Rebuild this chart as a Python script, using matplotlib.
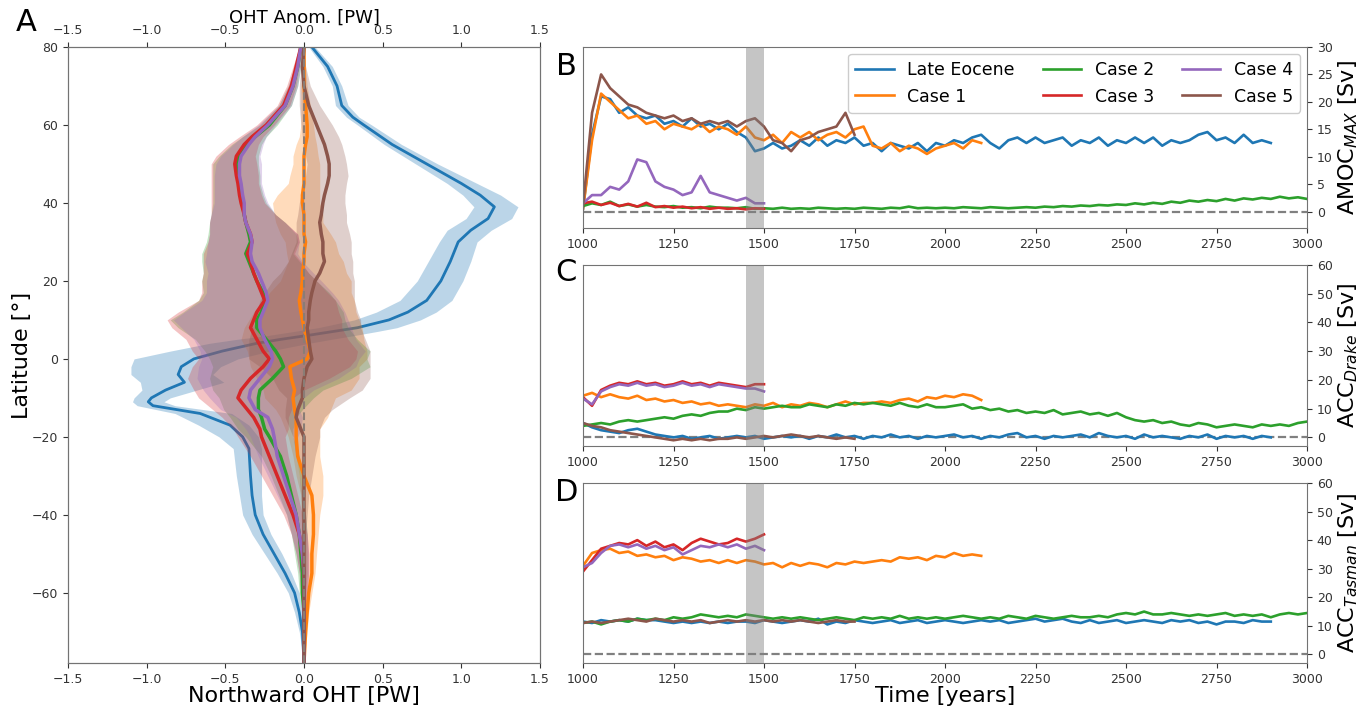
import matplotlib.pyplot as plt
import numpy as np

names = ["Late Eocene", "Case 1", "Case 2", "Case 3", "Case 4", "Case 5"]
colors = ["#1f77b4", "#ff7f0e", "#2ca02c", "#d62728", "#9467bd", "#8c564b"]

# ---------------- panel A: meridional OHT profiles ----------------
lat_eoc = [80, 75, 70, 65, 62,
           60, 55, 50, 45, 42,
           39, 36, 33, 30, 25,
           20, 15, 12, 10, 8,
           7, 6, 5, 4, 2,
           0, -2, -4, -6, -8,
           -10, -11, -12, -14, -17,
           -20, -23, -30, -35, -40,
           -45, -50, -55, -60, -65,
           -70, -78]
oht_eoc = [0.05, 0.15, 0.21, 0.24, 0.31,
           0.38, 0.56, 0.78, 1.00, 1.12,
           1.21, 1.17, 1.06, 0.98, 0.93,
           0.87, 0.78, 0.66, 0.54, 0.34,
           0.18, 0.02, -0.15, -0.30, -0.52,
           -0.70, -0.78, -0.80, -0.76, -0.88,
           -0.97, -0.99, -0.96, -0.66, -0.47,
           -0.39, -0.35, -0.34, -0.33, -0.31,
           -0.26, -0.19, -0.12, -0.06, -0.03,
           -0.01, 0.0]
eoc_lo = [0.02, 0.03, 0.03, 0.04, 0.04,
          0.04, 0.05, 0.07, 0.09, 0.11,
          0.13, 0.14, 0.15, 0.12, 0.14,
          0.15, 0.17, 0.20, 0.22, 0.25,
          0.25, 0.25, 0.28, 0.30, 0.33,
          0.38, 0.32, 0.30, 0.28, 0.15,
          0.11, 0.10, 0.10, 0.16, 0.20,
          0.15, 0.10, 0.09, 0.08, 0.08,
          0.07, 0.06, 0.05, 0.04, 0.03,
          0.02, 0.0]
eoc_hi = [0.02, 0.03, 0.03, 0.04, 0.04,
          0.05, 0.06, 0.07, 0.10, 0.13,
          0.15, 0.15, 0.13, 0.12, 0.13,
          0.14, 0.16, 0.18, 0.20, 0.25,
          0.28, 0.30, 0.32, 0.33, 0.30,
          0.28, 0.25, 0.22, 0.25, 0.20,
          0.12, 0.10, 0.14, 0.20, 0.12,
          0.10, 0.08, 0.07, 0.06, 0.05,
          0.05, 0.05, 0.04, 0.03, 0.02,
          0.01, 0.0]

lat_case = [80, 75, 70, 65, 60,
            57, 55, 52, 50, 47,
            45, 42, 40, 37, 35,
            32, 30, 27, 25, 22,
            20, 17, 15, 12, 10,
            8, 5, 2, 0, -2,
            -5, -8, -10, -13, -15,
            -18, -20, -25, -30, -35,
            -40, -45, -50, -55, -60,
            -65, -70, -78]
oht_c1 = [0.0, 0.0, 0.0, 0.01, 0.02,
          0.02, 0.01, 0.0, 0.0, 0.0,
          0.0, -0.01, -0.01, 0.0, 0.0,
          0.0, 0.01, 0.0, 0.0, -0.01,
          -0.01, -0.02, -0.03, -0.02, -0.01,
          0.0, 0.02, 0.04, 0.02, -0.09,
          -0.08, -0.06, -0.07, -0.06, -0.05,
          -0.05, -0.05, -0.04, 0.0, 0.05,
          0.06, 0.06, 0.05, 0.05, 0.03,
          0.02, 0.01, 0.0]
oht_c2 = [-0.02, -0.04, -0.07, -0.12, -0.22,
          -0.31, -0.36, -0.41, -0.43, -0.42,
          -0.41, -0.40, -0.39, -0.38, -0.37,
          -0.35, -0.34, -0.37, -0.35, -0.32,
          -0.30, -0.26, -0.25, -0.27, -0.30,
          -0.30, -0.24, -0.18, -0.15, -0.13,
          -0.20, -0.28, -0.29, -0.29, -0.27,
          -0.25, -0.22, -0.15, -0.11, -0.08,
          -0.05, -0.03, -0.02, -0.01, -0.01,
          0.0, 0.0, 0.0]
oht_c3 = [-0.02, -0.05, -0.08, -0.13, -0.24,
          -0.33, -0.38, -0.43, -0.44, -0.43,
          -0.42, -0.41, -0.40, -0.38, -0.37,
          -0.34, -0.33, -0.36, -0.34, -0.32,
          -0.30, -0.27, -0.25, -0.30, -0.32,
          -0.34, -0.30, -0.26, -0.22, -0.26,
          -0.34, -0.40, -0.42, -0.36, -0.32,
          -0.28, -0.27, -0.22, -0.17, -0.12,
          -0.07, -0.03, -0.01, 0.0, 0.0,
          0.0, 0.0, 0.0]
oht_c4 = [-0.02, -0.04, -0.07, -0.12, -0.23,
          -0.31, -0.35, -0.40, -0.41, -0.41,
          -0.40, -0.39, -0.38, -0.38, -0.37,
          -0.34, -0.33, -0.34, -0.33, -0.29,
          -0.27, -0.24, -0.23, -0.26, -0.28,
          -0.28, -0.25, -0.21, -0.20, -0.22,
          -0.28, -0.34, -0.35, -0.31, -0.23,
          -0.20, -0.19, -0.17, -0.13, -0.09,
          -0.05, -0.03, -0.01, 0.0, 0.0,
          0.0, 0.0, 0.0]
oht_c5 = [0.0, -0.01, 0.0, 0.03, 0.08,
          0.11, 0.13, 0.15, 0.16, 0.16,
          0.15, 0.13, 0.12, 0.11, 0.10,
          0.11, 0.12, 0.12, 0.13, 0.10,
          0.07, 0.05, 0.04, 0.03, 0.03,
          0.02, 0.03, 0.04, 0.05, 0.02,
          0.0, -0.01, -0.01, -0.04, -0.05,
          -0.02, 0.0, 0.0, 0.0, 0.0,
          0.0, 0.0, 0.0, 0.0, 0.0,
          0.0, 0.0, 0.0]

# spread of the shading below / above each case line
neg_lo = [0.01, 0.02, 0.03, 0.04, 0.06,
          0.08, 0.10, 0.13, 0.15, 0.16,
          0.17, 0.18, 0.19, 0.21, 0.23,
          0.26, 0.28, 0.28, 0.30, 0.32,
          0.35, 0.38, 0.42, 0.50, 0.55,
          0.50, 0.45, 0.45, 0.45, 0.45,
          0.40, 0.30, 0.25, 0.22, 0.20,
          0.17, 0.15, 0.12, 0.10, 0.08,
          0.06, 0.05, 0.04, 0.03, 0.02,
          0.01, 0.01, 0.0]
neg_hi = [0.01, 0.02, 0.03, 0.04, 0.05,
          0.07, 0.09, 0.12, 0.14, 0.14,
          0.13, 0.14, 0.15, 0.20, 0.25,
          0.30, 0.30, 0.30, 0.32, 0.35,
          0.38, 0.42, 0.45, 0.52, 0.56,
          0.58, 0.58, 0.60, 0.55, 0.55,
          0.50, 0.40, 0.35, 0.28, 0.22,
          0.18, 0.15, 0.12, 0.10, 0.08,
          0.06, 0.05, 0.04, 0.03, 0.02,
          0.01, 0.01, 0.0]
c1_lo = [0.0, 0.01, 0.02, 0.03, 0.04,
         0.05, 0.06, 0.07, 0.07, 0.09,
         0.10, 0.16, 0.19, 0.19, 0.18,
         0.15, 0.13, 0.11, 0.10, 0.12,
         0.14, 0.20, 0.22, 0.30, 0.34,
         0.38, 0.42, 0.40, 0.37, 0.25,
         0.22, 0.20, 0.18, 0.12, 0.10,
         0.07, 0.05, 0.03, 0.05, 0.07,
         0.08, 0.07, 0.06, 0.06, 0.04,
         0.03, 0.01, 0.0]
c1_hi = [0.0, 0.01, 0.02, 0.03, 0.04,
         0.05, 0.07, 0.09, 0.10, 0.10,
         0.10, 0.11, 0.11, 0.12, 0.12,
         0.17, 0.19, 0.22, 0.25, 0.28,
         0.31, 0.32, 0.35, 0.35, 0.36,
         0.37, 0.36, 0.36, 0.38, 0.44,
         0.43, 0.36, 0.27, 0.23, 0.20,
         0.15, 0.15, 0.14, 0.12, 0.07,
         0.04, 0.03, 0.03, 0.02, 0.02,
         0.01, 0.01, 0.0]
c5_lo = [0.0, 0.01, 0.03, 0.06, 0.10,
         0.12, 0.13, 0.14, 0.14, 0.15,
         0.15, 0.15, 0.15, 0.15, 0.15,
         0.16, 0.17, 0.20, 0.23, 0.25,
         0.27, 0.30, 0.32, 0.33, 0.33,
         0.35, 0.38, 0.39, 0.40, 0.30,
         0.20, 0.15, 0.10, 0.08, 0.07,
         0.07, 0.07, 0.05, 0.03, 0.02,
         0.01, 0.0, 0.0, 0.0, 0.0,
         0.0, 0.0, 0.0]
c5_hi = [0.0, 0.02, 0.04, 0.07, 0.10,
         0.11, 0.11, 0.11, 0.11, 0.12,
         0.12, 0.13, 0.14, 0.16, 0.17,
         0.18, 0.18, 0.18, 0.18, 0.21,
         0.25, 0.27, 0.28, 0.31, 0.33,
         0.34, 0.36, 0.38, 0.37, 0.40,
         0.42, 0.38, 0.30, 0.22, 0.18,
         0.12, 0.10, 0.07, 0.05, 0.03,
         0.02, 0.01, 0.0, 0.0, 0.0,
         0.0, 0.0, 0.0]

# ---------------- panels B-D: time series (every 25 years from 1000) ----------------
end_year = [2900, 2100, 3000, 1500, 1500, 1750]

amoc_eoc = [0.5, 14.0, 21.0, 20.5, 18.0, 19.0, 17.5, 17.0,
            17.5, 16.0, 16.5, 15.5, 17.0, 15.5, 16.0, 15.0,
            16.0, 14.5, 13.5, 11.0, 11.5, 12.5, 11.5, 12.0,
            13.0, 12.0, 13.5, 12.0, 13.0, 12.5, 13.5, 12.0,
            12.5, 11.0, 12.5, 12.0, 11.5, 12.5, 11.0, 12.5,
            12.0, 13.0, 12.5, 13.5, 14.0, 12.5, 11.5, 13.0,
            13.5, 12.5, 13.5, 12.5, 13.0, 13.5, 12.0, 13.0,
            12.5, 13.5, 12.0, 13.0, 12.5, 13.5, 12.5, 13.5,
            12.0, 13.0, 12.5, 13.0, 14.0, 14.5, 13.0, 13.5,
            12.5, 14.0, 12.5, 13.0, 12.5]
amoc_c1 = [0.5, 13.0, 21.5, 20.0, 18.5, 17.0, 17.5, 16.0,
           16.5, 15.0, 16.0, 15.5, 15.0, 16.0, 14.5, 15.5,
           15.0, 14.0, 15.5, 13.5, 13.0, 14.0, 12.5, 14.5,
           13.5, 14.5, 13.0, 14.0, 14.5, 13.5, 15.0, 15.5,
           12.0, 11.5, 12.5, 11.0, 12.0, 11.5, 10.5, 11.5,
           12.0, 12.5, 11.5, 13.0, 12.5]
amoc_c2 = [1.0, 1.5, 1.2, 1.8, 1.0, 1.3, 0.9, 1.2,
           0.9, 0.8, 1.0, 0.7, 0.8, 0.6, 0.9, 0.7,
           0.7, 0.6, 0.8, 0.5, 0.6, 0.5, 0.7, 0.5,
           0.6, 0.5, 0.7, 0.6, 0.5, 0.6, 0.5, 0.7,
           0.6, 0.5, 0.7, 0.6, 0.9, 0.6, 0.7, 0.6,
           0.7, 0.6, 0.8, 0.7, 0.6, 0.8, 0.7, 0.6,
           0.7, 0.8, 0.7, 0.9, 0.8, 1.0, 0.9, 1.1,
           1.0, 1.2, 1.1, 1.3, 1.2, 1.5, 1.3, 1.6,
           1.4, 1.8, 1.6, 2.0, 1.8, 2.1, 1.9, 2.3,
           2.0, 2.4, 2.2, 2.5, 2.3, 2.7, 2.4, 2.6,
           2.3]
amoc_c3 = [1.5, 1.8, 1.2, 1.6, 1.0, 1.4, 0.9, 1.6,
           0.8, 1.0, 0.7, 0.9, 0.6, 0.8, 0.5, 0.7,
           0.5, 0.6, 0.4, 0.6, 0.5]
amoc_c4 = [1.5, 3.0, 3.0, 4.5, 4.0, 5.5, 9.5, 9.0,
           5.5, 4.5, 4.0, 3.0, 3.5, 6.5, 3.5, 3.0,
           2.5, 2.0, 2.5, 1.5, 1.5]
amoc_c5 = [1.0, 18.0, 25.0, 22.5, 21.0, 19.5, 19.0, 18.0,
           17.5, 17.0, 17.5, 16.5, 17.0, 16.0, 16.5, 16.0,
           16.5, 15.5, 16.5, 17.0, 15.5, 13.0, 12.5, 11.0,
           13.0, 13.5, 14.5, 15.0, 15.5, 18.0, 14.0]

drake_eoc = [5.0, 3.5, 2.5, 2.0, 1.5, 2.5, 3.0, 2.0,
             1.0, 0.5, 0.0, 0.5, -0.5, 0.0, 0.5, -0.5,
             0.0, 0.5, 0.0, 0.5, -0.5, 0.0, 0.5, 0.0,
             0.5, -0.5, 0.5, 0.0, 1.0, 0.0, 0.5, -0.5,
             0.5, 0.0, 1.0, 0.0, 0.5, -0.5, 0.5, 0.0,
             0.5, 1.0, 0.0, 0.5, -0.5, 0.5, 0.0, 1.0,
             1.5, 0.0, 0.5, -0.5, 0.5, 0.0, 0.5, 1.0,
             0.0, 1.5, 0.5, 0.0, 0.5, -0.5, 1.0, 0.0,
             0.5, 0.0, -0.5, 0.5, 0.0, 1.0, -0.5, 0.5,
             0.0, 0.5, -0.5, 0.5, 0.0]
drake_c1 = [14.5, 15.5, 14.0, 15.0, 14.0, 13.5, 14.5, 13.0,
            13.5, 12.5, 13.0, 12.0, 12.5, 11.5, 12.0, 11.0,
            11.5, 11.0, 10.5, 11.5, 11.0, 12.0, 10.5, 11.5,
            11.0, 12.0, 11.5, 10.5, 11.5, 12.5, 11.5, 12.0,
            12.0, 12.5, 12.0, 13.0, 13.5, 12.5, 14.0, 13.5,
            14.5, 14.0, 15.0, 14.5, 13.0]
drake_c2 = [4.0, 4.5, 5.0, 4.5, 5.5, 6.0, 5.5, 6.0,
            6.5, 7.0, 6.5, 7.5, 8.0, 7.5, 8.5, 9.0,
            9.0, 10.0, 9.5, 10.5, 10.0, 10.5, 11.0, 10.5,
            10.5, 11.5, 11.0, 10.5, 11.5, 11.0, 12.0, 11.5,
            12.0, 11.5, 11.0, 12.0, 11.0, 10.5, 11.5, 10.5,
            10.5, 11.0, 11.5, 10.0, 10.5, 9.5, 10.0, 9.0,
            9.5, 8.5, 9.0, 8.5, 9.5, 8.0, 8.5, 9.0,
            8.0, 8.5, 7.5, 8.5, 7.0, 6.0, 5.5, 6.0,
            5.0, 5.5, 4.5, 4.0, 5.0, 4.5, 3.5, 4.0,
            4.5, 4.0, 3.5, 4.5, 4.0, 4.5, 4.0, 5.0,
            5.5]
drake_c3 = [14.0, 11.0, 16.5, 18.0, 19.0, 18.5, 19.5, 18.5,
            19.0, 18.0, 18.5, 19.5, 18.5, 19.0, 18.0, 19.0,
            18.5, 18.0, 17.5, 18.5, 18.5]
drake_c4 = [13.5, 11.5, 16.0, 17.5, 18.5, 18.0, 19.0, 18.0,
            18.5, 17.5, 18.0, 19.0, 18.0, 18.5, 17.5, 18.5,
            18.0, 17.5, 17.0, 17.0, 16.0]
drake_c5 = [5.0, 4.0, 3.5, 2.5, 2.0, 1.5, 1.0, 0.5,
            0.0, -0.5, -1.0, -0.5, -1.0, -0.5, -1.0, -0.5,
            -0.5, 0.0, -0.5, 0.0, 0.5, 0.0, 0.5, 1.0,
            0.5, 0.0, 0.5, 0.0, -0.5, 0.0, -0.5]

tasman_eoc = [11.5, 11.0, 12.0, 11.5, 12.0, 11.5, 12.5, 12.0,
              12.0, 11.5, 11.0, 11.5, 11.0, 11.5, 11.0, 11.5,
              11.0, 11.5, 11.5, 11.0, 12.0, 11.5, 11.0, 11.5,
              12.0, 11.5, 12.5, 10.5, 11.5, 11.0, 12.0, 11.5,
              11.0, 11.5, 12.0, 11.0, 11.5, 12.0, 11.0, 11.5,
              12.0, 11.5, 11.0, 11.5, 12.0, 11.5, 12.0, 11.0,
              11.5, 12.0, 12.5, 11.5, 12.0, 12.5, 11.5, 11.0,
              12.0, 11.0, 11.5, 12.0, 11.0, 11.5, 12.0, 11.5,
              11.0, 12.0, 11.5, 12.0, 11.0, 11.5, 10.5, 11.5,
              11.5, 11.0, 12.0, 11.5, 11.5]
tasman_c1 = [31.0, 35.5, 36.5, 37.0, 35.5, 36.0, 34.5, 35.0,
             34.0, 34.5, 33.0, 34.0, 33.5, 32.5, 33.0, 32.0,
             33.0, 32.0, 33.0, 32.5, 31.5, 32.0, 30.5, 32.0,
             31.0, 32.0, 31.5, 30.5, 32.0, 31.5, 32.5, 32.0,
             32.5, 33.0, 32.5, 34.0, 33.5, 34.0, 33.0, 34.5,
             34.0, 35.5, 34.5, 35.0, 34.5]
tasman_c2 = [11.0, 11.5, 10.5, 11.5, 12.0, 11.5, 12.5, 12.0,
             12.5, 12.0, 13.0, 12.5, 13.0, 14.0, 13.5, 13.0,
             13.5, 13.0, 14.0, 13.5, 13.0, 12.5, 13.0, 12.5,
             13.0, 12.5, 12.0, 12.5, 13.0, 12.5, 12.0, 13.0,
             12.5, 13.0, 12.5, 13.5, 12.5, 13.0, 12.5, 13.0,
             12.5, 13.0, 13.5, 13.0, 12.5, 13.0, 12.5, 13.5,
             13.0, 12.5, 13.5, 13.0, 12.5, 13.0, 13.5, 13.0,
             13.0, 13.5, 13.0, 14.0, 14.5, 14.0, 15.0, 14.0,
             14.0, 14.5, 14.0, 13.5, 14.0, 13.5, 14.0, 14.5,
             13.5, 14.0, 13.5, 14.0, 13.0, 14.0, 14.5, 14.0,
             14.5]
tasman_c3 = [29.0, 33.0, 37.0, 38.0, 39.0, 38.5, 40.0, 38.0,
             39.5, 37.5, 38.5, 36.5, 39.0, 40.5, 39.5, 38.5,
             39.0, 40.5, 39.5, 40.5, 42.0]
tasman_c4 = [30.5, 32.0, 35.5, 38.0, 38.5, 37.5, 38.5, 37.0,
             38.0, 36.5, 37.5, 35.0, 36.5, 38.0, 37.5, 38.5,
             37.5, 38.5, 37.0, 38.0, 36.5]
tasman_c5 = [11.0, 11.5, 11.0, 11.5, 12.0, 12.5, 12.0, 11.5,
             12.5, 12.0, 11.5, 12.0, 11.5, 12.0, 11.0, 11.5,
             12.0, 11.5, 12.0, 11.5, 12.0, 11.5, 12.0, 11.5,
             12.0, 11.5, 11.0, 11.5, 12.0, 11.5, 11.5]

W, H = 1371, 711
fig = plt.figure(figsize=(W / 100, H / 100), dpi=100)
spine_col = "0.45"


def box(l, t, r, b):
    return [l / W, 1 - b / H, (r - l) / W, (b - t) / H]


# ---- panel A ----
axA = fig.add_axes(box(68, 47, 540, 663))
axA.fill_betweenx(lat_eoc, np.array(oht_eoc) - eoc_lo, np.array(oht_eoc) + eoc_hi,
                  color=colors[0], alpha=0.3, lw=0)
axA.plot(oht_eoc, lat_eoc, color=colors[0], lw=2)
axA.set_xlim(-1.5, 1.5)
axA.set_ylim(-78, 80)
axA.set_yticks([-60, -40, -20, 0, 20, 40, 60, 80])
axA.set_xticks([-1.5, -1.0, -0.5, 0.0, 0.5, 1.0, 1.5])
axA.set_xlabel("Northward OHT [PW]", fontsize=16, labelpad=0)
axA.set_ylabel("Latitude [°]", fontsize=16, labelpad=0)

axT = axA.twiny()
axT.set_xlim(-1.5, 1.5)
axT.set_xticks([-1.5, -1.0, -0.5, 0.0, 0.5, 1.0, 1.5])
axT.set_xlabel("OHT Anom. [PW]", fontsize=13, labelpad=1)

case_vals = [oht_c1, oht_c2, oht_c3, oht_c4, oht_c5]
case_lo = [c1_lo, neg_lo, neg_lo, neg_lo, c5_lo]
case_hi = [c1_hi, neg_hi, neg_hi, neg_hi, c5_hi]
for vals, lo, hi, col in zip(case_vals, case_lo, case_hi, colors[1:]):
    v = np.array(vals)
    axT.fill_betweenx(lat_case, v - lo, v + hi, color=col, alpha=0.28, lw=0)
for vals, col in zip(case_vals, colors[1:]):
    axT.plot(vals, lat_case, color=col, lw=2.5)
axT.axvline(0, color="#8a7d76", ls="--", lw=1.5)

for ax in (axA, axT):
    ax.tick_params(labelsize=9, colors="0.2")
    for s in ax.spines.values():
        s.set_color(spine_col)

# ---- panels B, C, D ----
axB = fig.add_axes(box(583, 47, 1307, 228))
axC = fig.add_axes(box(583, 265, 1307, 446))
axD = fig.add_axes(box(583, 483, 1307, 663))

panels = [
    (axB, [amoc_eoc, amoc_c1, amoc_c2, amoc_c3, amoc_c4, amoc_c5],
     (-3, 30), range(0, 31, 5), "AMOC$_{MAX}$ [Sv]"),
    (axC, [drake_eoc, drake_c1, drake_c2, drake_c3, drake_c4, drake_c5],
     (-3, 60), range(0, 61, 10), "ACC$_{Drake}$ [Sv]"),
    (axD, [tasman_eoc, tasman_c1, tasman_c2, tasman_c3, tasman_c4, tasman_c5],
     (-3, 60), range(0, 61, 10), "ACC$_{Tasman}$ [Sv]"),
]
for ax, series, ylim, yt, ylab in panels:
    ax.axhline(0, color="0.5", ls="--", lw=1.6, zorder=1)
    for vals, end, col, name in zip(series, end_year, colors, names):
        t = np.arange(1000, end + 1, 25)
        ax.plot(t, vals, color=col, lw=1.9, label=name, zorder=2)
    ax.axvspan(1450, 1500, color="0.5", alpha=0.45, lw=0, zorder=3)
    ax.set_xlim(1000, 3000)
    ax.set_ylim(*ylim)
    ax.set_yticks(list(yt))
    ax.set_xticks([1000, 1250, 1500, 1750, 2000, 2250, 2500, 2750, 3000])
    ax.yaxis.tick_right()
    ax.yaxis.set_label_position("right")
    ax.set_ylabel(ylab, fontsize=16, labelpad=3)
    ax.tick_params(labelsize=9, colors="0.2")
    for s in ax.spines.values():
        s.set_color(spine_col)

axB.legend(ncol=3, loc="upper right", fontsize=12.5, handlelength=2.2,
           columnspacing=1.6, borderaxespad=0.4, framealpha=1)
axD.set_xlabel("Time [years]", fontsize=16, labelpad=0)

fig.text(0.019, 0.968, "A", fontsize=22, ha="center", va="center")
fig.text(0.413, 0.906, "B", fontsize=22, ha="center", va="center")
fig.text(0.413, 0.617, "C", fontsize=22, ha="center", va="center")
fig.text(0.413, 0.308, "D", fontsize=22, ha="center", va="center")

fig.savefig("out.png", dpi=100)
